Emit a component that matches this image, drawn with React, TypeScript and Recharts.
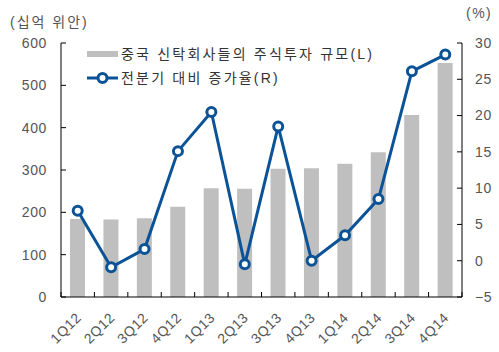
import React from 'react';
import { ComposedChart, Bar, Line, XAxis, YAxis, Legend, Customized } from 'recharts';

const categories = ['1Q12', '2Q12', '3Q12', '4Q12', '1Q13', '2Q13', '3Q13', '4Q13', '1Q14', '2Q14', '3Q14', '4Q14'];
const investment = [184, 183, 186, 213, 257, 256, 303, 304, 315, 342, 430, 553];
const growth = [6.9, -0.9, 1.6, 15.1, 20.5, -0.5, 18.5, 0.0, 3.5, 8.5, 26.1, 28.4];
const leftTicks = [0, 100, 200, 300, 400, 500, 600];
const rightTicks = [-5, 0, 5, 10, 15, 20, 25, 30];

const barName = '중국 신탁회사들의 주식투자 규모(L)';
const lineName = '전분기 대비 증가율(R)';

const data = categories.map((c, i) => ({ name: c, inv: investment[i], gr: growth[i] }));

const FONT = '"Liberation Sans", "Noto Sans CJK KR", sans-serif';
const TEXT = '#555555';
const BLUE = '#0B5396';
const GRAY = '#BFBFBF';

const LeftTick = (props: any) => {
  const { x, y, payload } = props;
  return (
    <g>
      <line x1={x} y1={y} x2={x + 5} y2={y} stroke="#000" strokeWidth={1} />
      <text x={x - 14} y={y} dy="0.35em" textAnchor="end" fontSize={14} fill={TEXT} fontFamily={FONT} letterSpacing={0.6}>
        {payload.value}
      </text>
    </g>
  );
};

const RightTick = (props: any) => {
  const { x, y, payload } = props;
  const v = payload.value;
  return (
    <g>
      <line x1={x} y1={y} x2={x - 5} y2={y} stroke="#000" strokeWidth={1} />
      <text x={x + 13} y={y} dy="0.35em" textAnchor="start" fontSize={14} fill={TEXT} fontFamily={FONT} letterSpacing={0.6}>
        {v < 0 ? '\u2212' + Math.abs(v) : v}
      </text>
    </g>
  );
};

const BottomTick = (props: any) => {
  const { x, y, payload, index, visibleTicksCount } = props;
  const band = 401 / categories.length;
  return (
    <g>
      <line x1={x - band / 2} y1={y} x2={x - band / 2} y2={y - 5} stroke="#000" strokeWidth={1} />
      {index === visibleTicksCount - 1 ? (
        <line x1={x + band / 2} y1={y} x2={x + band / 2} y2={y - 5} stroke="#000" strokeWidth={1} />
      ) : null}
      <text
        transform={`translate(${x + 1},${y + 18}) rotate(-45)`}
        textAnchor="end"
        dy="0.35em"
        fontSize={14}
        fill={TEXT}
        fontFamily={FONT}
        letterSpacing={0.6}
      >
        {payload.value}
      </text>
    </g>
  );
};

const LegendContent = () => (
  <div style={{ fontFamily: FONT, fontSize: 14, color: '#333', lineHeight: '24px' }}>
    <div style={{ display: 'flex', alignItems: 'center', height: 24 }}>
      <svg width={34} height={24}>
        <rect x={0} y={9} width={31} height={6} fill={GRAY} />
      </svg>
      <span style={{ letterSpacing: 2.2, whiteSpace: 'nowrap' }}>{barName}</span>
    </div>
    <div style={{ display: 'flex', alignItems: 'center', height: 24 }}>
      <svg width={34} height={24}>
        <line x1={0} y1={12} x2={31} y2={12} stroke={BLUE} strokeWidth={3} />
        <circle cx={15.5} cy={12} r={4.5} fill="#fff" stroke={BLUE} strokeWidth={3} />
      </svg>
      <span style={{ letterSpacing: 2.2, whiteSpace: 'nowrap' }}>{lineName}</span>
    </div>
  </div>
);

const AxisTitles = () => (
  <g>
    <text x={10} y={22} dy="0.35em" fontSize={14} fill={TEXT} fontFamily={FONT} letterSpacing={2}>
      (십억 위안)
    </text>
    <text x={466} y={13} dy="0.35em" fontSize={14} fill={TEXT} fontFamily={FONT} letterSpacing={1.5}>
      (%)
    </text>
  </g>
);

export default function App() {
  return (
    <div style={{ position: 'absolute', left: 0, top: 0, width: 499, height: 352, background: '#fff' }}>
      <ComposedChart width={499} height={352} data={data} margin={{ top: 43, right: 0, bottom: 0, left: 0 }} barCategoryGap="27%">
        <XAxis
          dataKey="name"
          height={55}
          tickSize={0}
          tickMargin={0}
          tick={<BottomTick />}
          axisLine={{ stroke: '#000', strokeWidth: 1 }}
          tickLine={false}
          interval={0}
        />
        <YAxis
          yAxisId="left"
          orientation="left"
          width={61}
          domain={[0, 600]}
          ticks={leftTicks}
          tickSize={0}
          tickMargin={0}
          tick={<LeftTick />}
          tickLine={false}
          axisLine={{ stroke: '#000', strokeWidth: 1 }}
          interval={0}
        />
        <YAxis
          yAxisId="right"
          orientation="right"
          width={37}
          domain={[-5, 30]}
          ticks={rightTicks}
          tickSize={0}
          tickMargin={0}
          tick={<RightTick />}
          tickLine={false}
          axisLine={{ stroke: '#000', strokeWidth: 1 }}
          interval={0}
        />
        <Legend
          verticalAlign="middle"
          align="center"
          layout="horizontal"
          content={<LegendContent />}
          wrapperStyle={{ position: 'absolute', left: 87, top: 42, width: 320, height: 48 }}
        />
        <Bar yAxisId="left" dataKey="inv" name={barName} fill={GRAY} isAnimationActive={false} />
        <Line
          yAxisId="right"
          dataKey="gr"
          name={lineName}
          stroke={BLUE}
          strokeWidth={3}
          dot={{ r: 4.5, fill: '#fff', stroke: BLUE, strokeWidth: 3 }}
          activeDot={false}
          isAnimationActive={false}
        />
        <Customized component={AxisTitles} />
      </ComposedChart>
    </div>
  );
}
